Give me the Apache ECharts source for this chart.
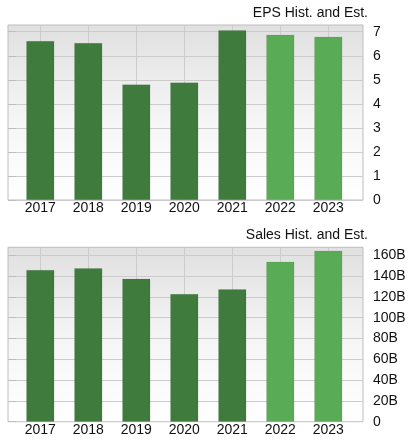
<!DOCTYPE html>
<html>
<head>
<meta charset="utf-8">
<script src="https://cdn.jsdelivr.net/npm/echarts@6/dist/echarts.min.js"></script>
<style>
  html, body { margin: 0; padding: 0; background: #fff; }
  #chart { width: 412px; height: 440px; }
</style>
</head>
<body>
<div id="chart"></div>
<script>
// categories
var years = ['2017', '2018', '2019', '2020', '2021', '2022', '2023'];
var estimateYears = ['2022', '2023'];
// EPS per year
var epsValues = [6.61, 6.53, 4.81, 4.89, 7.06, 6.87, 6.79];
// sales, in billions
var salesValues = [145.9, 147.5, 137.5, 122.8, 127.3, 153.8, 164.4];
// y tick labels
var epsTicks = [0, 1, 2, 3, 4, 5, 6, 7];
var salesTicks = [0, 20, 40, 60, 80, 100, 120, 140, 160];

var epsMax = 7.28;
var salesMax = 167.7;

var dark = '#3e7b3c';
var light = '#5aab56';
var font = 'Liberation Sans, Arial, sans-serif';

function barColor(p) {
  return estimateYears.indexOf(p.name) >= 0 ? light : dark;
}

function bgGrid(top, height) {
  return {
    left: 8, top: top, width: 355, height: height,
    show: true, z: -1,
    borderColor: '#bdbdbd', borderWidth: 1,
    backgroundColor: new echarts.graphic.LinearGradient(0, 0, 0, 1, [
      { offset: 0, color: '#e0e0e0' },
      { offset: 0.55, color: '#f6f6f6' },
      { offset: 1, color: '#ffffff' }
    ])
  };
}

function barGrid(top, height) {
  return { left: 16.3, top: top, width: 336, height: height };
}

function yAxisFor(gridIndex, max, ticks, fmt) {
  return {
    type: 'value', gridIndex: gridIndex, position: 'right',
    min: 0, max: max,
    axisLine: { show: false },
    axisTick: { show: true, length: 8, lineStyle: { color: '#bdbdbd' }, customValues: ticks },
    axisLabel: { margin: 10, fontSize: 14, color: '#111', fontFamily: font, customValues: ticks, formatter: fmt },
    splitLine: { show: true, lineStyle: { color: '#cccccc' } }
  };
}

function hiddenY(gridIndex, max) {
  return { type: 'value', gridIndex: gridIndex, min: 0, max: max, show: false };
}

function catAxis(gridIndex, height) {
  return {
    type: 'category', gridIndex: gridIndex, data: years,
    axisLine: { show: false },
    axisTick: { show: true, inside: true, alignWithLabel: true, length: height, lineStyle: { color: '#cccccc' } },
    axisLabel: { margin: 1, fontSize: 14, color: '#111', fontFamily: font },
    splitLine: { show: false }
  };
}

function hiddenX(gridIndex) {
  return { type: 'value', gridIndex: gridIndex, min: 0, max: 1, show: false };
}

var chart = echarts.init(document.getElementById('chart'));

var option = {
  animation: false,
  title: [
    { text: 'EPS Hist. and Est.', right: 44, top: 6, padding: 0,
      textStyle: { fontSize: 14, fontWeight: 'normal', color: '#111', fontFamily: font } },
    { text: 'Sales Hist. and Est.', right: 44, top: 228, padding: 0,
      textStyle: { fontSize: 14, fontWeight: 'normal', color: '#111', fontFamily: font } }
  ],
  grid: [
    bgGrid(25, 175),
    barGrid(25, 175),
    bgGrid(247.3, 174.4),
    barGrid(247.3, 174.4)
  ],
  xAxis: [
    hiddenX(0),
    catAxis(1, 175),
    hiddenX(2),
    catAxis(3, 174.4)
  ],
  yAxis: [
    yAxisFor(0, epsMax, epsTicks, function (v) { return String(v); }),
    hiddenY(1, epsMax),
    yAxisFor(2, salesMax, salesTicks, function (v) { return v === 0 ? '0' : v + 'B'; }),
    hiddenY(3, salesMax)
  ],
  series: [
    {
      name: 'EPS', type: 'bar', xAxisIndex: 1, yAxisIndex: 1,
      barWidth: 28, data: epsValues,
      itemStyle: { color: barColor, borderColor: 'rgba(0,0,0,0.12)', borderWidth: 0.5 }
    },
    {
      name: 'Sales', type: 'bar', xAxisIndex: 3, yAxisIndex: 3,
      barWidth: 28, data: salesValues,
      itemStyle: { color: barColor, borderColor: 'rgba(0,0,0,0.12)', borderWidth: 0.5 }
    }
  ]
};

chart.setOption(option);
</script>
</body>
</html>
